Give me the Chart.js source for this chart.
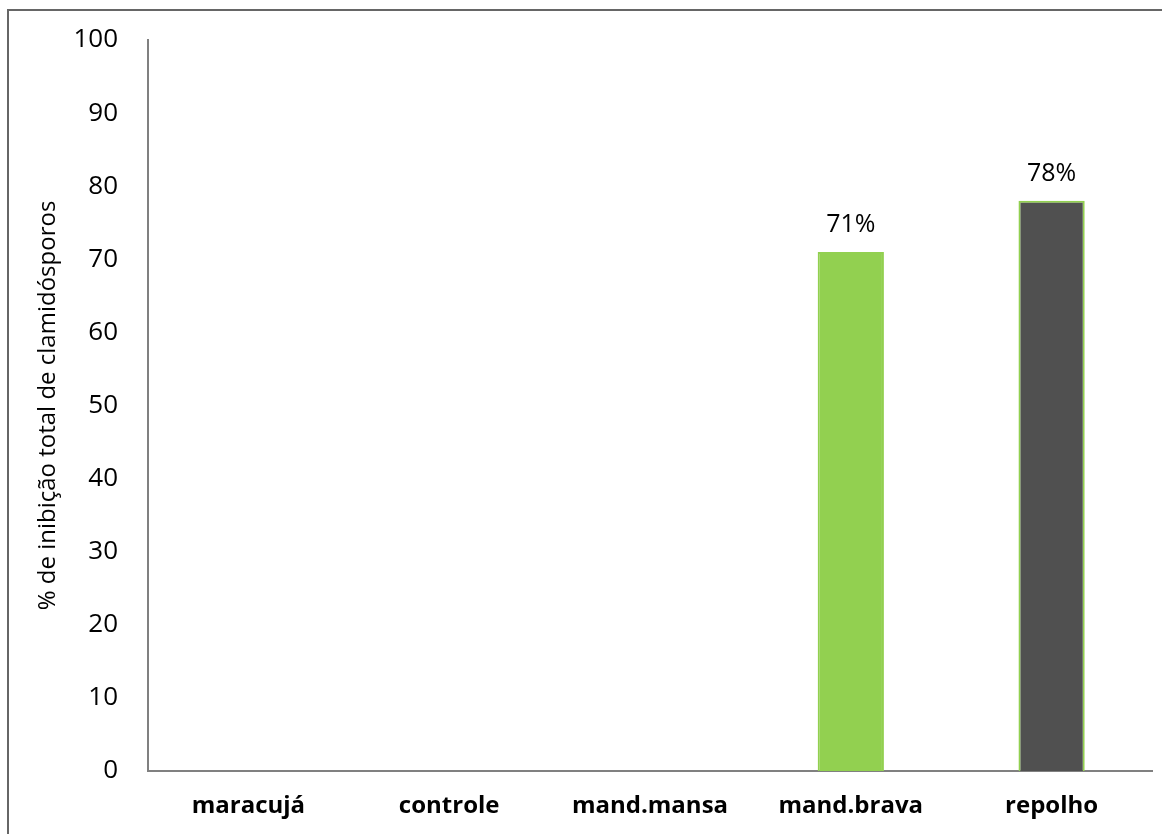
<!DOCTYPE html>
<html>
<head>
<meta charset="utf-8">
<script src="https://cdn.jsdelivr.net/npm/chart.js@4"></script>
<style>
  html, body { margin: 0; padding: 0; background: #fff; }
  #wrap { position: relative; width: 1162px; height: 834px; overflow: hidden; }
  #frame { position: absolute; left: 7px; top: 9px; width: 1200px; height: 900px;
           border-left: 2px solid #666; border-top: 2px solid #666; box-sizing: border-box; }
  canvas { position: absolute; left: 0; top: 0; }
</style>
</head>
<body>
<div id="wrap">
  <div id="frame"></div>
  <canvas id="chart" width="1162" height="834"></canvas>
</div>
<script>
const categories = ['maracujá', 'controle', 'mand.mansa', 'mand.brava', 'repolho'];
const inhibition = [null, null, null, 71, 78];
const valueLabels = ['', '', '', '71%', '78%'];
const barColors = ['#92D050', '#92D050', '#92D050', '#92D050', '#505050'];

const FONT = '"Open Sans", "Noto Sans", sans-serif';

// text above bars
const barLabels = {
    id: 'barLabels',
    afterDatasetsDraw(chart) {
        let ctx = chart.ctx;
        let meta = chart.getDatasetMeta(0);
        ctx.save();
        ctx.font = '25px ' + FONT;
        ctx.fillStyle = '#000';
        ctx.textAlign = 'center';
        ctx.textBaseline = 'middle';
        meta.data.forEach((bar, i) => {
            if (inhibition[i] == null) return;
            ctx.fillText(valueLabels[i], bar.x, bar.y - 27);
        });
        ctx.restore();
    }
};

new Chart(document.getElementById('chart').getContext('2d'), {
    type: 'bar',
    data: {
        labels: categories,
        datasets: [{
            data: inhibition,
            backgroundColor: barColors,
            borderColor: '#92D050',
            borderWidth: 2,
            categoryPercentage: 1,
            barPercentage: 0.33
        }]
    },
    options: {
        responsive: false,
        animation: false,
        layout: { padding: { top: 40, right: 10, left: 0, bottom: 0 } },
        plugins: {
            legend: { display: false },
            tooltip: { enabled: false }
        },
        scales: {
            x: {
                grid: { display: false, drawTicks: false },
                border: { display: true, color: '#808080', width: 2 },
                ticks: {
                    color: '#000',
                    padding: 21,
                    font: { family: FONT, size: 24, weight: 'bold' }
                },
                afterFit: (scale) => { scale.height = 63; }
            },
            y: {
                min: 0,
                max: 100,
                grid: { display: false, drawTicks: false },
                border: { display: true, color: '#808080', width: 2 },
                ticks: {
                    stepSize: 10,
                    color: '#000',
                    padding: 30,
                    font: { family: FONT, size: 26 }
                },
                title: {
                    display: true,
                    text: '% de inibição total de clamidósporos',
                    color: '#000',
                    padding: { top: 34, bottom: 0 },
                    font: { family: FONT, size: 24 }
                },
                afterFit: (scale) => {
                    scale.width = 148;
                    scale.paddingTop = 0;
                    scale.paddingBottom = 0;
                }
            }
        }
    },
    plugins: [barLabels]
});
</script>
</body>
</html>
